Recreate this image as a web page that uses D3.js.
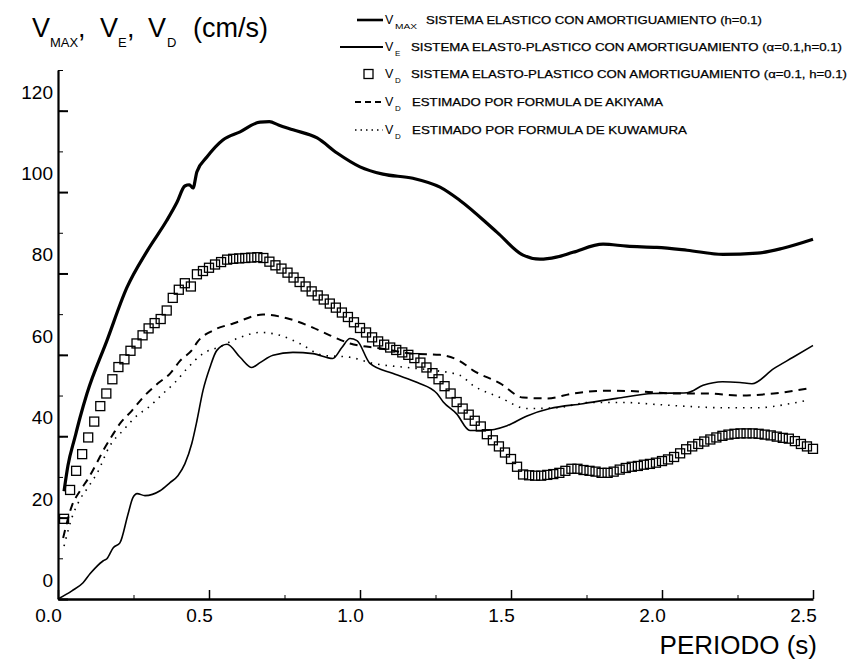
<!DOCTYPE html>
<html>
<head>
<meta charset="utf-8">
<script src="https://cdn.jsdelivr.net/npm/d3@7"></script>
<style>
  body { margin: 0; background: #fff; }
  text { font-family: "Liberation Sans", Arial, sans-serif; fill: #000; }
</style>
</head>
<body>
<script>
// --- data (period in s, velocity in cm/s) ---
const periodMax = [0.02, 0.033, 0.056, 0.073, 0.096, 0.162, 0.228, 0.295, 0.36, 0.394, 0.42, 0.435, 0.447, 0.46, 0.493, 0.546, 0.603, 0.669, 0.70, 0.73, 0.778, 0.858, 0.924, 1.0, 1.076, 1.175, 1.265, 1.33, 1.454, 1.54, 1.596, 1.65, 1.705, 1.805, 1.884, 1.983, 2.083, 2.202, 2.315, 2.4, 2.5];
const vMax = [26.5, 32.8, 39.7, 44.6, 50.5, 63.5, 76.5, 85.5, 93, 97.5, 101.5, 101.8, 101, 105, 108.6, 112.8, 114.8, 117.2, 117.3, 116.5, 115.3, 113.3, 109.6, 106.2, 104.4, 103.4, 101.2, 98, 90.1, 84.5, 83.5, 84, 85.2, 87.2, 86.7, 86.4, 85.7, 84.7, 85, 86.2, 88.4];

const periodE = [0, 0.046, 0.083, 0.106, 0.123, 0.15, 0.162, 0.183, 0.205, 0.232, 0.248, 0.262, 0.288, 0.338, 0.371, 0.397, 0.42, 0.443, 0.46, 0.48, 0.503, 0.526, 0.56, 0.603, 0.642, 0.669, 0.712, 0.778, 0.844, 0.91, 0.94, 0.967, 0.99, 1.033, 1.11, 1.19, 1.255, 1.275, 1.32, 1.364, 1.407, 1.487, 1.553, 1.629, 1.738, 1.85, 1.97, 2.083, 2.136, 2.2, 2.258, 2.298, 2.37, 2.434, 2.5];
const vE = [0, 2, 4, 6.2, 7.6, 9.4, 9.9, 12.6, 13.8, 20.9, 24.9, 25.9, 25.4, 26.6, 28.6, 30.3, 33.2, 38.2, 43.8, 51.2, 56.9, 61.1, 62.6, 59.4, 56.9, 58.1, 59.9, 60.6, 60.3, 59.1, 61.8, 64, 63.5, 57.9, 55.4, 53.2, 50.5, 48.5, 45.5, 41.4, 41.4, 42.6, 45, 46.8, 48, 49.3, 50.5, 50.7, 52.5, 53.4, 53.2, 52.9, 56.6, 59.4, 62.3];

// squares: one every 0.02 s from 0.02 to 2.50
const vD = [19.7, 26.8, 31.5, 35.6, 39.7, 43.6, 47.4, 50.5, 54, 57,
  58.9, 61, 62.8, 64.8, 66.5, 67.8, 68.8, 70.9, 74, 76,
  77.6, 76.8, 79.8, 80.6, 81.4, 82.2, 82.8, 83.4, 83.6, 83.7,
  83.8, 83.9, 84, 83.8, 82.9, 82, 81.2, 80.2, 79, 77.9,
  76.8, 75.6, 74.6, 73.6, 72.6, 71.6, 70.4, 69.3, 68, 66.6,
  65.5, 64.3, 63.3, 62.5, 61.8, 61.2, 60.6, 60, 59.2, 58.1,
  56.9, 55.5, 54, 52.3, 50.5, 48.4, 46.8, 45.3, 43.8, 42.4,
  40.5, 39, 37.5, 36, 34.4, 32.5, 30.6, 30.4, 30.3, 30.3,
  30.5, 30.7, 31, 31.5, 32, 32, 31.7, 31.5, 31.3, 31,
  31, 31.3, 31.8, 32.2, 32.5, 32.7, 33, 33.2, 33.5, 33.9,
  34.3, 34.9, 35.8, 36.8, 37.5, 38.1, 38.7, 39.2, 39.7, 40.1,
  40.4, 40.6, 40.7, 40.7, 40.7, 40.6, 40.4, 40.2, 39.9, 39.6,
  39.4, 38.8, 38.1, 37.5, 36.9];
const periodD = vD.map((v, i) => +((i + 1) * 0.02).toFixed(2));

const periodAki = [0.017, 0.046, 0.073, 0.1, 0.129, 0.15, 0.179, 0.205, 0.245, 0.281, 0.331, 0.371, 0.404, 0.447, 0.46, 0.513, 0.58, 0.679, 0.758, 0.844, 0.9, 0.967, 1.066, 1.175, 1.265, 1.33, 1.374, 1.464, 1.54, 1.619, 1.705, 1.818, 1.927, 2.037, 2.15, 2.258, 2.37, 2.48];
const vAki = [15, 22.9, 26.6, 29.6, 33.5, 36.5, 40.1, 43.1, 46.3, 49.5, 53, 55.4, 58.5, 61.5, 63, 66, 67.7, 69.9, 69, 66.7, 64.8, 62.8, 61.6, 60.3, 60, 58.5, 56.2, 53, 49.5, 49.3, 50.5, 51.2, 51, 50.5, 50.5, 50, 50.5, 51.7];

const periodKuw = [0.02, 0.046, 0.073, 0.1, 0.13, 0.172, 0.215, 0.265, 0.298, 0.348, 0.387, 0.427, 0.48, 0.536, 0.603, 0.669, 0.735, 0.8, 0.877, 0.967, 1.043, 1.155, 1.242, 1.33, 1.374, 1.464, 1.553, 1.652, 1.76, 1.87, 1.983, 2.093, 2.2, 2.315, 2.424, 2.48];
const vKuw = [13, 20, 24.5, 27.5, 31, 37.7, 41.4, 45.3, 47, 50.5, 53.2, 56.6, 60.3, 62, 64.3, 65.5, 64.8, 62.8, 59.9, 59.4, 57.9, 56.9, 56.2, 55, 52.5, 49.5, 46.8, 47, 48.3, 48.3, 47.8, 47.3, 47, 47, 48, 48.8];

const xTickLabels = ["0.0", "0.5", "1.0", "1.5", "2.0", "2.5"];
const yTickLabels = ["0", "20", "40", "60", "80", "100", "120"];

const legendTexts = [
  "SISTEMA ELASTICO CON AMORTIGUAMIENTO (h=0.1)",
  "SISTEMA ELAST0-PLASTICO CON AMORTIGUAMIENTO (\u03b1=0.1,h=0.1)",
  "SISTEMA ELASTO-PLASTICO CON AMORTIGUAMIENTO (\u03b1=0.1, h=0.1)",
  "ESTIMADO POR FORMULA DE AKIYAMA",
  "ESTIMADO POR FORMULA DE KUWAMURA"
];
const legendSubs = ["MAX", "E", "D", "D", "D"];

// --- chart ---
const W = 850, H = 663;
const svg = d3.select("body").append("svg")
  .attr("width", W)
  .attr("height", H);

const x = d3.scaleLinear().domain([0, 2.5]).range([58, 813]);
const y = d3.scaleLinear().domain([0, 130]).range([599, 70]);

// y axis: minor ticks every 10, long ticks with labels every 20
svg.append("g")
  .attr("transform", "translate(58,0)")
  .call(d3.axisLeft(y).tickValues(d3.range(0, 131, 10)).tickSizeInner(-5).tickSizeOuter(0).tickFormat(""))
  .call(g => g.select(".domain").attr("stroke-width", 2.2));

svg.append("g")
  .attr("transform", "translate(58,0)")
  .call(d3.axisLeft(y).tickValues(yTickLabels.map(Number)).tickSizeInner(-10).tickSizeOuter(0).tickPadding(5)
    .tickFormat((d, i) => yTickLabels[i]))
  .call(g => g.select(".domain").remove())
  .call(g => g.selectAll(".tick line").attr("stroke-width", 2))
  .call(g => g.selectAll("text")
    .attr("font-size", 19)
    .attr("font-family", "Liberation Sans, Arial, sans-serif")
    .attr("dy", "-0.66em"));

// x axis
svg.append("g")
  .attr("transform", "translate(0,599)")
  .call(d3.axisBottom(x).tickValues(d3.range(0, 2.51, 0.25)).tickSizeInner(-4).tickSizeOuter(0).tickFormat(""))
  .call(g => g.select(".domain").attr("stroke-width", 2.5));

svg.append("g")
  .attr("transform", "translate(0,599)")
  .call(d3.axisBottom(x).tickValues(xTickLabels.map(Number)).tickSizeInner(-9).tickSizeOuter(0).tickPadding(10)
    .tickFormat((d, i) => xTickLabels[i]))
  .call(g => g.select(".domain").remove())
  .call(g => g.selectAll(".tick line").attr("stroke-width", 1.5))
  .call(g => g.selectAll("text")
    .attr("font-size", 19)
    .attr("font-family", "Liberation Sans, Arial, sans-serif")
    .attr("dx", -10));

svg.append("text")
  .attr("x", 817)
  .attr("y", 654)
  .attr("text-anchor", "end")
  .attr("font-size", 26)
  .text("PERIODO (s)");

// title with subscripts
const title = [
  { t: "V", x: 32, s: 27, sub: false },
  { t: "MAX", x: 50, s: 13, sub: true },
  { t: ",", x: 78, s: 27, sub: false },
  { t: "V", x: 100, s: 27, sub: false },
  { t: "E", x: 118, s: 13, sub: true },
  { t: ",", x: 127, s: 27, sub: false },
  { t: "V", x: 148, s: 27, sub: false },
  { t: "D", x: 167, s: 13, sub: true },
  { t: "(cm/s)", x: 193, s: 27, sub: false }
];
svg.append("g").selectAll("text")
  .data(title)
  .join("text")
  .attr("x", d => d.x)
  .attr("y", d => d.sub ? 47 : 37)
  .attr("font-size", d => d.s)
  .text(d => d.t);

// curves
const line = (px, vy) => d3.line()
  .x((d, i) => x(px[i]))
  .y(d => y(d))
  .curve(d3.curveMonotoneX)(vy);

svg.append("path")
  .attr("d", line(periodMax, vMax))
  .attr("fill", "none")
  .attr("stroke", "#000")
  .attr("stroke-width", 3.2);

svg.append("path")
  .attr("d", line(periodE, vE))
  .attr("fill", "none")
  .attr("stroke", "#000")
  .attr("stroke-width", 1.6);

svg.append("path")
  .attr("d", line(periodAki, vAki))
  .attr("fill", "none")
  .attr("stroke", "#000")
  .attr("stroke-width", 2)
  .attr("stroke-dasharray", "8,6");

svg.append("path")
  .attr("d", line(periodKuw, vKuw))
  .attr("fill", "none")
  .attr("stroke", "#000")
  .attr("stroke-width", 1.6)
  .attr("stroke-dasharray", "1.5,6");

svg.append("g").selectAll("rect")
  .data(vD)
  .join("rect")
  .attr("x", (d, i) => x(periodD[i]) - 4.5)
  .attr("y", d => y(d) - 4.5)
  .attr("width", 9)
  .attr("height", 9)
  .attr("fill", "none")
  .attr("stroke", "#000")
  .attr("stroke-width", 1.3);

// legend
const legY = [20, 47, 74, 102, 130];
const legTextX = [426, 411, 411, 412, 412];
const legLen = [336, 431, 436, 251, 275];
const leg = svg.append("g");

leg.selectAll(".lt")
  .data(legendTexts)
  .join("text")
  .attr("class", "lt")
  .attr("x", (d, i) => legTextX[i])
  .attr("y", (d, i) => legY[i] + 4)
  .attr("font-size", 11.5)
  .attr("stroke", "#000")
  .attr("stroke-width", 0.25)
  .attr("textLength", (d, i) => legLen[i])
  .attr("lengthAdjust", "spacingAndGlyphs")
  .text(d => d);

leg.selectAll(".lv")
  .data(legendSubs)
  .join("text")
  .attr("class", "lv")
  .attr("x", 385)
  .attr("y", (d, i) => legY[i] + 4)
  .attr("font-size", 12.5)
  .text("V");

leg.selectAll(".ls")
  .data(legendSubs)
  .join("text")
  .attr("class", "ls")
  .attr("x", 395)
  .attr("y", (d, i) => legY[i] + 9)
  .attr("font-size", (d, i) => i === 0 ? 8 : 8)
  .attr("textLength", (d, i) => i === 0 ? 22 : null)
  .attr("lengthAdjust", "spacingAndGlyphs")
  .text(d => d);

const sample = [
  { x1: 357, w: 2.6, dash: null },
  { x1: 340, w: 1.8, dash: null },
  null,
  { x1: 355, w: 2, dash: "6,4" },
  { x1: 355, w: 1.5, dash: "1.5,4" }
];
sample.forEach((s, i) => {
  if (!s) return;
  leg.append("line")
    .attr("x1", s.x1).attr("x2", 383)
    .attr("y1", legY[i]).attr("y2", legY[i])
    .attr("stroke", "#000")
    .attr("stroke-width", s.w)
    .attr("stroke-dasharray", s.dash);
});
leg.append("rect")
  .attr("x", 364).attr("y", legY[2] - 4.5)
  .attr("width", 9).attr("height", 9)
  .attr("fill", "none").attr("stroke", "#000").attr("stroke-width", 1.3);
</script>
</body>
</html>
